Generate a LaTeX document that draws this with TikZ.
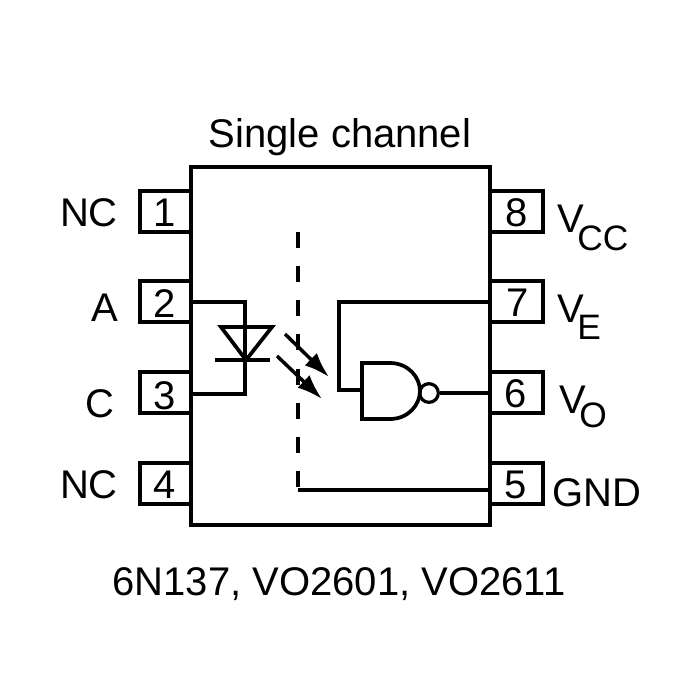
\documentclass[tikz,border=0pt]{standalone}
\usepackage{fontspec}
\setmainfont{Liberation Sans}
\usetikzlibrary{arrows.meta}
\newcommand{\subtxt}[2]{\kern-5pt\raisebox{-#1}{\fontsize{26.5}{28}\selectfont #2}}
\tikzset{
 wire/.style={line width=2.3pt},
 thick wire/.style={line width=2.8pt},
 pinbox/.style={line width=2.4pt},
 lab/.style={inner sep=0pt,font=\fontsize{30}{32}\selectfont},
 ray/.style={line width=2.6pt,-{Latex[length=19pt,width=13pt]}}
}
\begin{document}
\begin{tikzpicture}[x=0.75pt,y=-0.75pt]
\useasboundingbox (0,0) rectangle (700,700);
\fill[white] (0,0) rectangle (700,700);
% pins
\foreach \y in {191,281,372,463}{
 \draw[pinbox] (140,\y) rectangle (191,\y+41);
 \draw[pinbox] (490,\y) rectangle (543,\y+41);}
\draw[line width=3.4pt] (191,167) rectangle (490,525);
\foreach \t/\y in {1/213,2/304,3/396,4/485}{\node[lab] (pin\t) at (165,\y) {\t};}
\foreach \t/\x/\y in {8/517/213,7/518/303,6/516/394,5/516/485}{\node[lab] (pin\t) at (\x,\y) {\t};}
\node[lab] (title) at (340,137) {Single channel};
\node[lab] (nca) at (89,213) {NC};
\node[lab] (a) at (105,308) {A};
\node[lab] (c) at (100,404) {C};
\node[lab] (ncb) at (89,485) {NC};
\node[lab,anchor=base west] (vcc) at (557,232) {V\subtxt{13.5pt}{CC}};
\node[lab,anchor=base west] (ve) at (557,322) {V\subtxt{12.75pt}{E}};
\node[lab,anchor=base west] (vo) at (559,413) {V\subtxt{11pt}{O}};
\node[lab,anchor=west] (gnd) at (552,493) {GND};
\node[lab] (parts) at (339,584) {6N137, VO2601, VO2611};
% LED
\coordinate (la) at (191,302);
\coordinate (lc) at (191,394);
\coordinate (lt) at (245,302);
\coordinate (lb) at (245,394);
\draw[wire] (la) -- (lt) -- (lb) -- (lc);
\draw[thick wire,line join=miter] (221,327) -- (272,327) -- (246,360) -- cycle;
\draw[line width=3.4pt] (215,360) -- (270,360);
% rays
\coordinate (r1a) at (285,334);
\coordinate (r1b) at (329,377);
\coordinate (r2a) at (277,356);
\coordinate (r2b) at (322,399);
\draw[ray] (r1a) -- (r1b);
\draw[ray] (r2a) -- (r2b);
% barrier
\coordinate (bt) at (298,232);
\coordinate (bb) at (298,490);
\coordinate (g5) at (490,490);
\draw[wire,dash pattern=on 12pt off 13.6pt] (bt) -- (bb);
\draw[wire] (bb) -- (g5);
% gate
\coordinate (g7) at (490,302);
\coordinate (gc) at (339,302);
\coordinate (gd) at (339,390);
\coordinate (gi) at (362,390);
\draw[wire] (g7) -- (gc) -- (gd) -- (gi);
\draw[thick wire] (362,363) -- (362,419) -- (390,419)
  .. controls (408,419) and (420,405) .. (420,391)
  .. controls (420,377) and (408,363) .. (390,363) -- cycle;
\node[draw,circle,line width=2.4pt,minimum size=14pt,inner sep=0pt] (bub) at (429,393) {};
\coordinate (g6) at (490,393);
\draw[wire] (bub) -- (g6);
\end{tikzpicture}
\end{document}
